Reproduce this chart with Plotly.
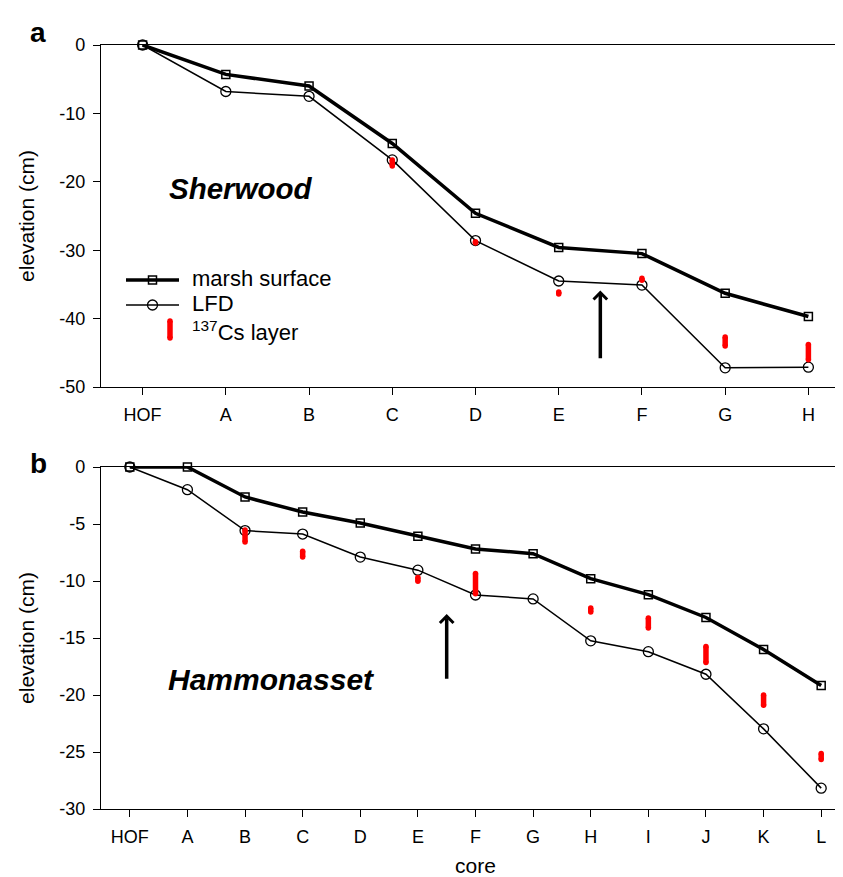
import plotly.graph_objects as go

# ---------------- data ----------------
cores_a = ["HOF", "A", "B", "C", "D", "E", "F", "G", "H"]
marsh_a = [0, -4.3, -6.0, -14.4, -24.6, -29.6, -30.5, -36.3, -39.7]
lfd_a = [0, -6.8, -7.5, -16.8, -28.6, -34.5, -35.1, -47.2, -47.1]
cs_a_core = ["C", "D", "E", "F", "G", "H"]
cs_a_top = [-16.8, -28.75, -36.1, -34.1, -42.7, -43.8]
cs_a_bot = [-17.7, -28.95, -36.4, -34.4, -44.0, -46.0]

cores_b = ["HOF", "A", "B", "C", "D", "E", "F", "G", "H", "I", "J", "K", "L"]
marsh_b = [0, 0, -2.63, -3.95, -4.91, -6.08, -7.19, -7.6, -9.8, -11.2, -13.2, -16.0, -19.17]
lfd_b = [0, -1.99, -5.58, -5.88, -7.9, -9.05, -11.23, -11.57, -15.25, -16.2, -18.18, -22.97, -28.17]
cs_b_core = ["B", "C", "E", "F", "H", "I", "J", "K", "L"]
cs_b_top = [-5.53, -7.4, -9.69, -9.34, -12.37, -13.24, -15.74, -20.0, -25.14]
cs_b_bot = [-6.57, -7.9, -10.02, -11.11, -12.71, -14.12, -17.16, -20.9, -25.66]

yticks_a = [0, -10, -20, -30, -40, -50]
yticks_b = [0, -5, -10, -15, -20, -25, -30]

arrow_a = {"core": 5.5, "tip": -35.9, "tail": -46.0}
arrow_b = {"core": 5.5, "tip": -12.9, "tail": -18.7}

legend_labels = ["marsh surface", "LFD", "<sup>137</sup>Cs layer"]

FONT = "Liberation Sans, Arial, sans-serif"
W, H = 843, 877
ML, MR, MT, MB = 93, 1, 37, 76

MARSH_LINE = dict(color="black", width=3.5)
MARSH_MARK = dict(symbol="square-open", size=8, color="black", line=dict(width=1.5))
LFD_LINE = dict(color="black", width=1.5)
LFD_MARK = dict(symbol="circle-open", size=10, color="black", line=dict(width=1.3))
CS_LINE = dict(color="#ff0000", width=5.5)
CS_MARK = dict(symbol="circle", size=5.5, color="#ff0000")


def px(x):
    return (x - ML) / (W - ML - MR)


def py(y):
    return (H - MB - y) / (H - MT - MB)


def segs(cores, order, top, bot):
    xs, ys = [], []
    for c, t, b in zip(cores, top, bot):
        i = order.index(c)
        xs += [i, i, None]
        ys += [t, b, None]
    return xs, ys


fig = go.Figure()

# panel a
xa = list(range(len(cores_a)))
fig.add_trace(go.Scatter(x=xa, y=marsh_a, mode="lines+markers", name="marsh surface",
                         line=MARSH_LINE, marker=MARSH_MARK, cliponaxis=False,
                         xaxis="x", yaxis="y"))
fig.add_trace(go.Scatter(x=xa, y=lfd_a, mode="lines+markers", name="LFD",
                         line=LFD_LINE, marker=LFD_MARK, cliponaxis=False,
                         xaxis="x", yaxis="y"))
sx, sy = segs(cs_a_core, cores_a, cs_a_top, cs_a_bot)
fig.add_trace(go.Scatter(x=sx, y=sy, mode="lines+markers", name="137Cs layer",
                         line=CS_LINE, marker=CS_MARK, xaxis="x", yaxis="y"))

# panel b
xb = list(range(len(cores_b)))
fig.add_trace(go.Scatter(x=xb, y=marsh_b, mode="lines+markers", name="marsh surface",
                         line=MARSH_LINE, marker=MARSH_MARK, cliponaxis=False,
                         xaxis="x2", yaxis="y2"))
fig.add_trace(go.Scatter(x=xb, y=lfd_b, mode="lines+markers", name="LFD",
                         line=LFD_LINE, marker=LFD_MARK, cliponaxis=False,
                         xaxis="x2", yaxis="y2"))
sx, sy = segs(cs_b_core, cores_b, cs_b_top, cs_b_bot)
fig.add_trace(go.Scatter(x=sx, y=sy, mode="lines+markers", name="137Cs layer",
                         line=CS_LINE, marker=CS_MARK, xaxis="x2", yaxis="y2"))

# legend (drawn on a hidden pixel-unit axis pair inside panel a)
fig.add_trace(go.Scatter(x=[118, 171], y=[272, 272], mode="lines", line=MARSH_LINE,
                         cliponaxis=False, xaxis="x3", yaxis="y3", hoverinfo="skip"))
fig.add_trace(go.Scatter(x=[144.5], y=[272], mode="markers", marker=MARSH_MARK,
                         cliponaxis=False, xaxis="x3", yaxis="y3", hoverinfo="skip"))
fig.add_trace(go.Scatter(x=[118, 171], y=[297, 297], mode="lines", line=LFD_LINE,
                         cliponaxis=False, xaxis="x3", yaxis="y3", hoverinfo="skip"))
fig.add_trace(go.Scatter(x=[144.5], y=[297], mode="markers", marker=LFD_MARK,
                         cliponaxis=False, xaxis="x3", yaxis="y3", hoverinfo="skip"))
fig.add_trace(go.Scatter(x=[162, 162], y=[313, 330], mode="lines+markers", line=CS_LINE,
                         marker=CS_MARK, cliponaxis=False, xaxis="x3", yaxis="y3",
                         hoverinfo="skip"))

axis_common = dict(showline=True, linecolor="black", linewidth=1.3, mirror=True,
                   ticks="outside", ticklen=7, tickwidth=1.3, tickcolor="black",
                   showgrid=False, zeroline=False,
                   tickfont=dict(family=FONT, size=18, color="black"))

ya_dom = [py(379), 1.0]
yb_dom = [0.0, py(459)]

fig.update_layout(
    width=W, height=H,
    margin=dict(l=ML, r=MR, t=MT, b=MB),
    paper_bgcolor="white", plot_bgcolor="white",
    font=dict(family=FONT, color="black"),
    showlegend=False,
    xaxis=dict(domain=[0, 1], range=[-0.5, 8.5], tickvals=xa, ticktext=cores_a,
               anchor="y", ticklabelstandoff=4, **axis_common),
    yaxis=dict(domain=ya_dom, range=[-50, 0], tickvals=yticks_a,
               ticktext=[str(v) for v in yticks_a], anchor="x", ticklabelstandoff=4,
               title=dict(text="elevation (cm)", font=dict(family=FONT, size=21), standoff=18),
               **axis_common),
    xaxis2=dict(domain=[0, 1], range=[-0.5, 12.5], tickvals=xb, ticktext=cores_b,
                anchor="y2", ticklabelstandoff=4,
                title=dict(text="core", font=dict(family=FONT, size=21), standoff=12),
                **axis_common),
    yaxis2=dict(domain=yb_dom, range=[-30, 0], tickvals=yticks_b,
                ticktext=[str(v) for v in yticks_b], anchor="x2", ticklabelstandoff=4,
                title=dict(text="elevation (cm)", font=dict(family=FONT, size=21), standoff=18),
                **axis_common),
    xaxis3=dict(domain=[px(100), px(360)], range=[100, 360], visible=False,
                anchor="y3", fixedrange=True),
    yaxis3=dict(domain=[py(345), py(250)], range=[345, 250], visible=False,
                anchor="x3", fixedrange=True),
)

ann = []
for lbl, yy in zip(legend_labels, [270.6, 295.6, 322.5]):
    ann.append(dict(text=lbl, x=182, y=yy, xref="x3", yref="y3", xanchor="left",
                    yanchor="middle", showarrow=False,
                    font=dict(family=FONT, size=22, color="black")))
ann.append(dict(text="<b>a</b>", x=px(20), y=py(25), xref="paper", yref="paper",
                xanchor="left", yanchor="middle", showarrow=False,
                font=dict(family=FONT, size=28, color="black")))
ann.append(dict(text="<b>b</b>", x=px(20), y=py(455), xref="paper", yref="paper",
                xanchor="left", yanchor="middle", showarrow=False,
                font=dict(family=FONT, size=28, color="black")))
ann.append(dict(text="<b><i>Sherwood</i></b>", x=px(233), y=py(180), xref="paper", yref="paper",
                xanchor="center", yanchor="middle", showarrow=False,
                font=dict(family=FONT, size=29.5, color="black")))
ann.append(dict(text="<b><i>Hammonasset</i></b>", x=px(263), y=py(671), xref="paper", yref="paper",
                xanchor="center", yanchor="middle", showarrow=False,
                font=dict(family=FONT, size=30, color="black")))
for a, xr, yr in [(arrow_a, "x", "y"), (arrow_b, "x2", "y2")]:
    ann.append(dict(text="", x=a["core"], y=a["tip"], ax=a["core"], ay=a["tail"],
                    xref=xr, yref=yr, axref=xr, ayref=yr, showarrow=True,
                    arrowhead=4, arrowwidth=3.5, arrowsize=0.75, arrowcolor="black"))
fig.update_layout(annotations=ann)

fig.write_html("out.html")
